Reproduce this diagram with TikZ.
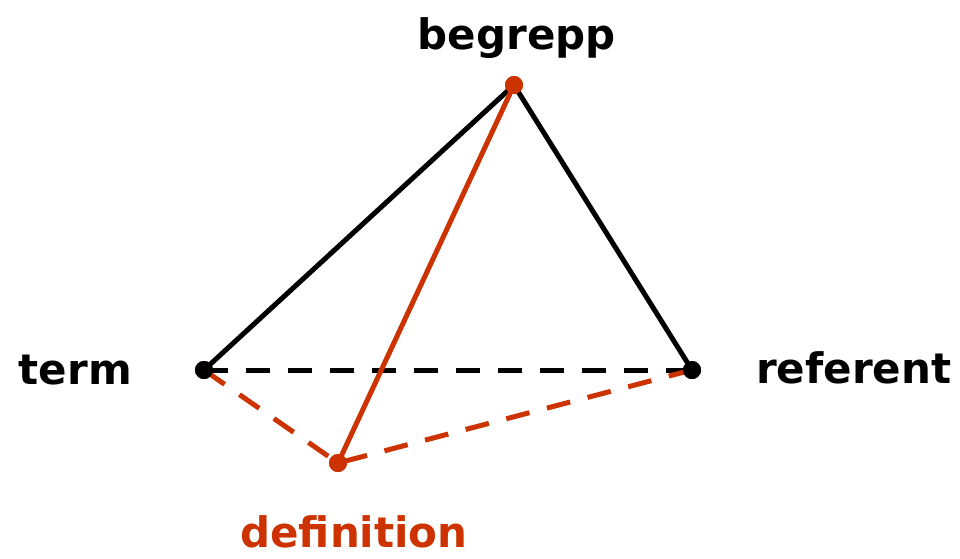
\documentclass[tikz,border=0pt]{standalone}
\usepackage{fontspec}
\setsansfont{DejaVu Sans}
\usepackage{tikz}
\usetikzlibrary{positioning}

\definecolor{defred}{RGB}{204,51,0}

\begin{document}
\begin{tikzpicture}[
  x=0.75pt, y=-0.75pt,
  node distance=13pt,
  dot/.style={circle, fill, inner sep=0pt, minimum size=13.5pt},
  lbl/.style={inner sep=0pt, font=\sffamily\bfseries\fontsize{31.5}{37}\selectfont},
  edge/.style={line width=3.75pt},
  dashedge/.style={line width=3.75pt, dash pattern=on 18pt off 13.5pt}
]
  \useasboundingbox (0,0) rectangle (960,558);
  \node[dot] (term) at (204,370) {};
  \node[dot] (ref) at (692,370) {};
  \node[dot, defred] (beg) at (514,85) {};
  \node[dot, defred] (def) at (338,463) {};
  \node[lbl, left=47pt of term] (termlbl) {term};
  \node[lbl, right=41pt of ref, yshift=1.5pt] (reflbl) {referent};
  \node[lbl, above=13pt of beg, xshift=2pt] (beglbl) {begrepp};
  \node[lbl, defred, below=32pt of def, xshift=12pt] (deflbl) {definition};
  \draw[edge] (term.center) -- (beg.center) -- (ref.center);
  \draw[dashedge] (term.center) -- (ref.center);
  \draw[dashedge, defred] (ref.center) -- (def.center) -- (term.center);
  \draw[edge, defred] (beg.center) -- (def.center);
  % dots on top
  \fill (term) circle (6.75pt);
  \fill (ref) circle (6.75pt);
  \fill[defred] (beg) circle (6.75pt);
  \fill[defred] (def) circle (6.75pt);
\end{tikzpicture}
\end{document}
